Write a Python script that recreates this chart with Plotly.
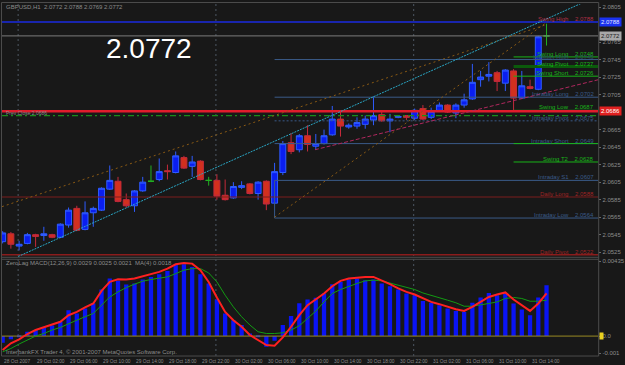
import plotly.graph_objects as go

W, H = 625, 365
def px(x): return x / W
def py(y): return 1 - y / H

# ---------------- data ----------------
bars = list(range(67))
opens = [2.0537, 2.0546, 2.0532, 2.0535, 2.0545, 2.0544, 2.0545, 2.0542, 2.0556, 2.0575,
         2.0551, 2.0570, 2.0573, 2.0597, 2.0606, 2.0585, 2.0578, 2.0595, 2.0606, 2.0608,
         2.0618, 2.0616, 2.0633, 2.0623, 2.0629, 2.0607, 2.0607, 2.0590, 2.0587, 2.0599,
         2.0603, 2.0592, 2.0606, 2.0581, 2.0616, 2.0650, 2.0642, 2.0658, 2.0646, 2.0649,
         2.0659, 2.0677, 2.0668, 2.0669, 2.0671, 2.0676, 2.0682, 2.0675, 2.0679, 2.0681,
         2.0678, 2.0689, 2.0679, 2.0687, 2.0693, 2.0684, 2.0693, 2.0700, 2.0722, 2.0726,
         2.0730, 2.0718, 2.0732, 2.0701, 2.0714, 2.0711, 2.0772]
highs = [2.0549, 2.0548, 2.0538, 2.0547, 2.0546, 2.0554, 2.0546, 2.0558, 2.0576, 2.0578,
         2.0583, 2.0577, 2.0599, 2.0624, 2.0611, 2.0592, 2.0596, 2.0611, 2.0624, 2.0632,
         2.0625, 2.0640, 2.0635, 2.0635, 2.0630, 2.0611, 2.0614, 2.0608, 2.0605, 2.0606,
         2.0604, 2.0606, 2.0607, 2.0627, 2.0652, 2.0661, 2.0660, 2.0670, 2.0660, 2.0665,
         2.0692, 2.0686, 2.0672, 2.0679, 2.0681, 2.0703, 2.0686, 2.0683, 2.0681, 2.0681,
         2.0689, 2.0693, 2.0690, 2.0696, 2.0694, 2.0695, 2.0706, 2.0740, 2.0732, 2.0742,
         2.0732, 2.0734, 2.0734, 2.0732, 2.0722, 2.0772, 2.0786]
lows = [2.0535, 2.0529, 2.0527, 2.0534, 2.0531, 2.0538, 2.0541, 2.0541, 2.0553, 2.0549,
        2.0550, 2.0554, 2.0572, 2.0596, 2.0582, 2.0576, 2.0571, 2.0594, 2.0605, 2.0606,
        2.0608, 2.0615, 2.0620, 2.0611, 2.0607, 2.0601, 2.0585, 2.0584, 2.0586, 2.0597,
        2.0591, 2.0585, 2.0573, 2.0580, 2.0613, 2.0637, 2.0639, 2.0640, 2.0642, 2.0648,
        2.0658, 2.0657, 2.0666, 2.0666, 2.0666, 2.0670, 2.0674, 2.0662, 2.0678, 2.0676,
        2.0676, 2.0676, 2.0677, 2.0686, 2.0684, 2.0678, 2.0690, 2.0699, 2.0714, 2.0720,
        2.0709, 2.0709, 2.0687, 2.0700, 2.0711, 2.0710, 2.0761]
closes = [2.0547, 2.0534, 2.0534, 2.0545, 2.0543, 2.0546, 2.0542, 2.0557, 2.0573, 2.0550,
          2.0570, 2.0575, 2.0598, 2.0607, 2.0583, 2.0578, 2.0595, 2.0605, 2.0606, 2.0617,
          2.0617, 2.0635, 2.0621, 2.0628, 2.0608, 2.0607, 2.0589, 2.0585, 2.0600, 2.0601,
          2.0592, 2.0605, 2.0580, 2.0617, 2.0649, 2.0640, 2.0658, 2.0648, 2.0649, 2.0658,
          2.0677, 2.0669, 2.0670, 2.0673, 2.0677, 2.0681, 2.0675, 2.0677, 2.0680, 2.0679,
          2.0687, 2.0677, 2.0686, 2.0693, 2.0685, 2.0693, 2.0699, 2.0719, 2.0725, 2.0728,
          2.0720, 2.0733, 2.0701, 2.0715, 2.0712, 2.0771, 2.0772]

macd_hist = [-0.00039, -0.00019, -0.00003, 0.00025, 0.00035, 0.00050, 0.00062, 0.00083, 0.00150, 0.00131,
             0.00160, 0.00189, 0.00270, 0.00334, 0.00320, 0.00299, 0.00305, 0.00328, 0.00343, 0.00358,
             0.00377, 0.00416, 0.00416, 0.00401, 0.00358, 0.00305, 0.00212, 0.00131, 0.00092, 0.00064,
             0.00015, -0.00003, -0.00062, -0.00027, 0.00064, 0.00116, 0.00191, 0.00212, 0.00222, 0.00247,
             0.00301, 0.00314, 0.00328, 0.00334, 0.00324, 0.00328, 0.00305, 0.00289, 0.00270, 0.00247,
             0.00237, 0.00204, 0.00193, 0.00179, 0.00160, 0.00146, 0.00140, 0.00193, 0.00224, 0.00250,
             0.00237, 0.00247, 0.00189, 0.00154, 0.00121, 0.00224, 0.00295]
macd_line = [-0.00081, -0.00042, -0.00019, 0.00012, 0.00035, 0.00050, 0.00064, 0.00083, 0.00121, 0.00140,
             0.00166, 0.00189, 0.00262, 0.00314, 0.00329, 0.00328, 0.00334, 0.00347, 0.00358, 0.00372,
             0.00391, 0.00416, 0.00424, 0.00420, 0.00382, 0.00314, 0.00224, 0.00140, 0.00092, 0.00054,
             0.00006, -0.00023, -0.00052, -0.00056, -0.00008, 0.00054, 0.00121, 0.00179, 0.00215, 0.00247,
             0.00289, 0.00320, 0.00334, 0.00339, 0.00343, 0.00343, 0.00324, 0.00301, 0.00276, 0.00256,
             0.00241, 0.00218, 0.00198, 0.00185, 0.00169, 0.00156, 0.00146, 0.00169, 0.00198, 0.00227,
             0.00241, 0.00253, 0.00212, 0.00179, 0.00146, 0.00189, 0.00247]
macd_signal = [-0.00091, -0.00072, -0.00046, -0.00023, 0.00000, 0.00015, 0.00035, 0.00050, 0.00073, 0.00092,
               0.00112, 0.00131, 0.00179, 0.00227, 0.00256, 0.00281, 0.00301, 0.00318, 0.00328, 0.00334,
               0.00343, 0.00362, 0.00382, 0.00391, 0.00391, 0.00366, 0.00314, 0.00237, 0.00169, 0.00112,
               0.00064, 0.00025, 0.00015, 0.00015, 0.00019, 0.00035, 0.00060, 0.00102, 0.00145, 0.00198,
               0.00247, 0.00270, 0.00289, 0.00305, 0.00320, 0.00324, 0.00320, 0.00308, 0.00295, 0.00285,
               0.00270, 0.00250, 0.00237, 0.00224, 0.00208, 0.00193, 0.00173, 0.00173, 0.00179, 0.00189,
               0.00198, 0.00218, 0.00224, 0.00218, 0.00202, 0.00202, 0.00208]

time_labels = ["28 Oct 2007", "29 Oct 02:00", "29 Oct 06:00", "29 Oct 10:00", "29 Oct 14:00",
               "29 Oct 18:00", "29 Oct 22:00", "30 Oct 02:00", "30 Oct 06:00", "30 Oct 10:00",
               "30 Oct 14:00", "30 Oct 18:00", "30 Oct 22:00", "31 Oct 02:00", "31 Oct 06:00",
               "31 Oct 10:00", "31 Oct 14:00"]
time_label_bars = [0, 4, 8, 12, 16, 20, 24, 28, 32, 36, 40, 44, 48, 52, 56, 60, 64]
day_start_bars = [2, 26, 50]

# 2.0785 and 2.0685 sit under the price boxes on the axis
price_ticks = [2.0805, 2.0765, 2.0745, 2.0725, 2.0705, 2.0665,
               2.0645, 2.0625, 2.0605, 2.0585, 2.0565, 2.0545, 2.0525]

level_names = ["Swing High", "Swing Long", "Intraday High", "Swing Pivot", "Swing Short",
               "Intraday Long", "Swing Low", "Intraday Pivot", "Intraday Short", "Swing T2",
               "Intraday S1", "Daily Long", "Intraday Low", "Daily Pivot"]
level_values = [2.0788, 2.0748, 2.0745, 2.0737, 2.0726, 2.0702, 2.0687, 2.0675, 2.0649,
                2.0628, 2.0607, 2.0588, 2.0564, 2.0522]

current_price = 2.0772
prev_close = 2.0686
green_level = 2.0681

# trend lines: (bar, price) pairs
cyan_line = ([1.87, 72.3], [2.0520, 2.0818])
orange_line1 = ([-0.08, 66.0], [2.0577, 2.0785])
orange_line2 = ([33.0, 66.1], [2.0565, 2.0788])
pink_line = ([37.9, 72.3], [2.0642, 2.0722])

# ---------------- styles ----------------
BG = "#181818"
FONT = "Liberation Sans, Arial, sans-serif"
XMIN, XMAX = -0.08, 72.27
BLUE_C = "#3a5a88"
GREEN_C = "#19b419"
DRED_C = "#7a1c1c"
level_style = {
    "Swing High": ("#1a2ae0", 1.5, "solid", XMIN, "#b03048"),
    "Swing Long": (GREEN_C, 1, "solid", 62, GREEN_C),
    "Intraday High": (BLUE_C, 1, "solid", 33, "#2c4466"),
    "Swing Pivot": ("#0b5a0b", 3, "solid", 62, GREEN_C),
    "Swing Short": (GREEN_C, 1, "solid", 62, GREEN_C),
    "Intraday Long": (BLUE_C, 1, "solid", 33, BLUE_C),
    "Swing Low": (GREEN_C, 1, "solid", 62, GREEN_C),
    "Intraday Pivot": (BLUE_C, 1, "2px,2px", 33, BLUE_C),
    "Intraday Short": (BLUE_C, 1, "solid", 33, BLUE_C),
    "Swing T2": (GREEN_C, 1, "solid", 62, GREEN_C),
    "Intraday S1": (BLUE_C, 1, "solid", 33, BLUE_C),
    "Daily Long": (DRED_C, 1, "solid", XMIN, "#a02424"),
    "Intraday Low": (BLUE_C, 1, "solid", 33, BLUE_C),
    "Daily Pivot": ("#8a1c1c", 1.5, "solid", XMIN, "#a02424"),
}

fig = go.Figure()

for name, val in zip(level_names, level_values):
    col, wd, dash, x0, _ = level_style[name]
    fig.add_trace(go.Scatter(x=[x0, XMAX], y=[val, val], mode="lines",
                             line=dict(color=col, width=wd, dash=dash),
                             xaxis="x", yaxis="y", hoverinfo="skip"))
fig.add_trace(go.Scatter(x=[62, XMAX], y=[level_values[8], level_values[8]], mode="lines",
                         line=dict(color=GREEN_C, width=1), hoverinfo="skip"))
fig.add_trace(go.Scatter(x=[33, 33], y=[level_values[10], level_values[12]], mode="lines",
                         line=dict(color=BLUE_C, width=1), hoverinfo="skip"))

fig.add_trace(go.Scatter(x=[XMIN, XMAX], y=[current_price, current_price], mode="lines",
                         line=dict(color="#7c7c7c", width=1), hoverinfo="skip"))
fig.add_trace(go.Scatter(x=[XMIN, XMAX], y=[green_level, green_level], mode="lines",
                         line=dict(color="#1a8c1a", width=1.3, dash="6px,3px,2px,3px"), hoverinfo="skip"))
fig.add_trace(go.Scatter(x=[XMIN, XMAX], y=[prev_close, prev_close], mode="lines",
                         line=dict(color="#e01c2c", width=2.6), hoverinfo="skip"))

fig.add_trace(go.Scatter(x=orange_line1[0], y=orange_line1[1], mode="lines",
                         line=dict(color="#8a5a14", width=1, dash="2px,3px"), hoverinfo="skip"))
fig.add_trace(go.Scatter(x=orange_line2[0], y=orange_line2[1], mode="lines",
                         line=dict(color="#8a5a14", width=1, dash="2px,3px"), hoverinfo="skip"))
fig.add_trace(go.Scatter(x=cyan_line[0], y=cyan_line[1], mode="lines",
                         line=dict(color="#2aa6c4", width=1, dash="2px,1px"), hoverinfo="skip"))
fig.add_trace(go.Scatter(x=pink_line[0], y=pink_line[1], mode="lines",
                         line=dict(color="#b0285e", width=1, dash="4px,2px"), hoverinfo="skip"))

def pick(idx, arr): return [arr[i] for i in idx]
bull = [i for i in bars if closes[i] > opens[i]]
bear = [i for i in bars if closes[i] < opens[i]]
doji = [i for i in bars if closes[i] == opens[i]]
for idx, lc, fc in [(bull, "#2f5cff", "#0a1ef0"), (bear, "#c42a3a", "#d2301e"), (doji, "#22b022", "#22b022")]:
    fig.add_trace(go.Candlestick(
        x=idx, open=pick(idx, opens), high=pick(idx, highs), low=pick(idx, lows), close=pick(idx, closes),
        increasing=dict(line=dict(color=lc, width=1), fillcolor=fc),
        decreasing=dict(line=dict(color=lc, width=1), fillcolor=fc),
        whiskerwidth=0, xaxis="x", yaxis="y", hoverinfo="skip"))

fig.add_trace(go.Scatter(x=[XMIN, XMAX], y=[0, 0], mode="lines", xaxis="x2", yaxis="y2",
                         line=dict(color="#9a8a24", width=1), hoverinfo="skip"))
fig.add_trace(go.Bar(x=bars, y=macd_hist, width=0.52, marker=dict(color="#0a14f5", line=dict(width=0)),
                     xaxis="x2", yaxis="y2", hoverinfo="skip"))
fig.add_trace(go.Scatter(x=bars, y=macd_signal, mode="lines", xaxis="x2", yaxis="y2",
                         line=dict(color="#139a13", width=1), hoverinfo="skip"))
fig.add_trace(go.Scatter(x=bars, y=macd_line, mode="lines", xaxis="x2", yaxis="y2",
                         line=dict(color="#ff2020", width=2), hoverinfo="skip"))

P_TOP, P_BOT = 2.0772 + 32 / 8780, 2.0772 - 222 / 8780
M_TOP, M_BOT = (336 - 259) / 17300, -(356 - 336) / 17300

shapes = []
for d in day_start_bars:
    shapes.append(dict(type="line", xref="x", yref="paper", x0=d - 0.12, x1=d - 0.12,
                       y0=py(356), y1=py(1.5), line=dict(color="#4e5864", width=1, dash="2px,3px"), layer="below"))
border = "#4c4c4c"
shapes += [
    dict(type="line", xref="paper", yref="paper", x0=px(1.5), x1=px(1.5), y0=py(1.5), y1=py(356), line=dict(color=border, width=1)),
    dict(type="line", xref="paper", yref="paper", x0=px(1.5), x1=px(604.5), y0=py(1.5), y1=py(1.5), line=dict(color=border, width=1)),
    dict(type="line", xref="paper", yref="paper", x0=px(1.5), x1=px(604.5), y0=py(257), y1=py(257), line=dict(color=border, width=1)),
    dict(type="line", xref="paper", yref="paper", x0=px(1.5), x1=px(604.5), y0=py(259), y1=py(259), line=dict(color=border, width=1)),
    dict(type="line", xref="paper", yref="paper", x0=px(1.5), x1=px(604.5), y0=py(356), y1=py(356), line=dict(color=border, width=1)),
    dict(type="line", xref="paper", yref="paper", x0=px(604.5), x1=px(604.5), y0=py(1.5), y1=py(356), line=dict(color=border, width=1)),
]

small = dict(family=FONT, size=6, color="#8c8c8c")
annotations = []
for name, val in zip(level_names, level_values):
    tcol = level_style[name][4]
    annotations.append(dict(xref="paper", yref="y", x=px(601), y=val, xanchor="right", yanchor="bottom",
                            text=f"{name}    {val:.4f}", showarrow=False,
                            font=dict(family=FONT, size=6, color=tcol), borderpad=0, yshift=-1))
for val, bg, fc in [(level_values[0], "#1a32f0", "#e6e6ff"), (current_price, "#a8a8a8", "#202020"), (prev_close, "#e02020", "#ffffff")]:
    annotations.append(dict(xref="paper", yref="y", x=px(605), y=val, xanchor="left", yanchor="middle",
                            text=f"{val:.4f}", showarrow=False, bgcolor=bg, borderpad=1,
                            font=dict(family=FONT, size=6, color=fc)))
annotations.append(dict(xref="paper", yref="y2", x=px(605), y=0, xanchor="left", yanchor="middle",
                        text="&nbsp;", showarrow=False, bgcolor="#e8d020", borderpad=0, width=3, height=6,
                        font=dict(size=5)))
for b, t in zip(time_label_bars, time_labels):
    annotations.append(dict(xref="x2", yref="paper", x=b - 0.05, y=py(361), xanchor="left", yanchor="middle",
                            text=t, showarrow=False, font=dict(family=FONT, size=4.8, color="#8c8c8c")))
annotations += [
    dict(xref="paper", yref="paper", x=px(4), y=py(6), xanchor="left", yanchor="middle", showarrow=False,
         text="GBPUSD,H1  2.0772 2.0788 2.0769 2.0772", font=small),
    dict(xref="paper", yref="paper", x=px(4), y=py(112.5), xanchor="left", yanchor="middle", showarrow=False,
         text="Prev Close 2.0686", font=dict(family=FONT, size=5, color="#8c8c8c")),
    dict(xref="paper", yref="paper", x=px(150), y=py(48), xanchor="center", yanchor="middle", showarrow=False,
         text="2.0772", font=dict(family=FONT, size=28, color="#ffffff")),
    dict(xref="paper", yref="paper", x=px(4), y=py(263), xanchor="left", yanchor="middle", showarrow=False,
         text="ZeroLag MACD(12,26,9) 0.0029 0.0025 0.0021  MA(4) 0.0018", font=small),
    dict(xref="paper", yref="paper", x=px(4), y=py(351.5), xanchor="left", yanchor="middle", showarrow=False,
         text="InterbankFX Trader 4, © 2001-2007 MetaQuotes Software Corp.", font=small),
]

fig.update_layout(
    width=W, height=H, margin=dict(l=0, r=0, t=0, b=0),
    paper_bgcolor=BG, plot_bgcolor=BG, showlegend=False,
    boxgap=0.28, boxgroupgap=0, barmode="overlay",
    xaxis=dict(domain=[px(2), px(604)], range=[XMIN, XMAX], showgrid=False, zeroline=False,
               showticklabels=False, rangeslider=dict(visible=False), anchor="y", fixedrange=True),
    yaxis=dict(domain=[py(257), py(3)], range=[P_BOT, P_TOP], side="right", showgrid=False, zeroline=False,
               tickvals=price_ticks, ticktext=[f"{v:.4f}" for v in price_ticks], ticks="outside",
               ticklen=2, tickcolor="#6a6a6a", tickfont=dict(family=FONT, size=6, color="#8c8c8c"),
               anchor="x"),
    xaxis2=dict(domain=[px(2), px(604)], range=[XMIN, XMAX], showgrid=False, zeroline=False,
                showticklabels=False, anchor="y2", fixedrange=True),
    yaxis2=dict(domain=[py(356), py(259)], range=[M_BOT, M_TOP], side="right", showgrid=False, zeroline=False,
                tickvals=[0.00435, 0.0, -0.001], ticktext=["0.00435", "0.0", "-0.001"], ticks="outside",
                ticklen=2, tickcolor="#6a6a6a", tickfont=dict(family=FONT, size=6, color="#8c8c8c"),
                anchor="x2"),
    shapes=shapes, annotations=annotations,
)

fig.write_html("out.html")
